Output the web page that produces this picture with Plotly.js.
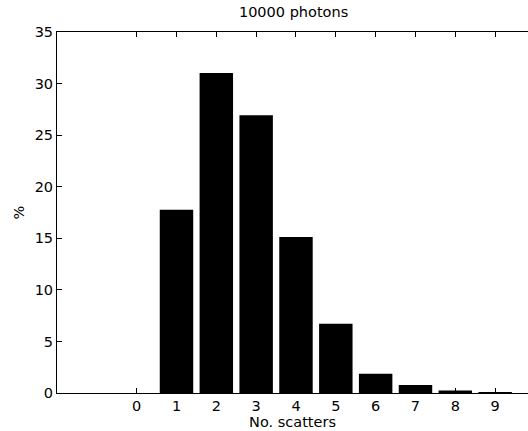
<!DOCTYPE html>
<html>
<head>
<meta charset="utf-8">
<script src="https://cdn.plot.ly/plotly-3.0.1.min.js"></script>
<style>
html,body{margin:0;padding:0;overflow:hidden;background:#fff;}
#chart{width:528px;height:431px;}
</style>
</head>
<body>
<div id="chart"></div>
<script>
var scatters = [0, 1, 2, 3, 4, 5, 6, 7, 8, 9];
var percent = [0, 17.77, 31.03, 26.92, 15.12, 6.72, 1.87, 0.78, 0.25, 0.1];
var tickVals = [0, 1, 2, 3, 4, 5, 6, 7, 8, 9];
var yTickVals = [0, 5, 10, 15, 20, 25, 30, 35];
var titleText = "10000 photons";
var xLabel = "No. scatters";
var yLabel = "%";

var font = {family: "DejaVu Sans, Liberation Sans, Arial, sans-serif", size: 14.5, color: "#000"};

Plotly.newPlot("chart", [{
  type: "bar",
  x: scatters,
  y: percent,
  width: 0.84,
  marker: {color: "#000", line: {color: "#000", width: 0}},
  hoverinfo: "none"
}], {
  width: 528,
  height: 431,
  margin: {l: 57, r: 0, t: 32, b: 38, pad: 0},
  paper_bgcolor: "#fff",
  plot_bgcolor: "#fff",
  font: font,
  showlegend: false,
  title: {text: titleText, font: font, xref: "container", x: 0.556, xanchor: "center", yref: "container", y: 0.985, yanchor: "top"},
  xaxis: {
    range: [-2, 9.825],
    tickmode: "array",
    tickvals: tickVals,
    ticktext: tickVals.map(String),
    ticks: "inside",
    ticklen: 5,
    tickcolor: "#000",
    tickwidth: 1,
    showline: true,
    linecolor: "#000",
    linewidth: 1,
    mirror: "ticks",
    showgrid: false,
    zeroline: false,
    tickfont: font,
    title: {text: xLabel, font: font, standoff: 2}
  },
  yaxis: {
    range: [0, 35],
    tickmode: "array",
    tickvals: yTickVals,
    ticks: "inside",
    ticklen: 5,
    tickcolor: "#000",
    tickwidth: 1,
    showline: true,
    linecolor: "#000",
    linewidth: 1,
    mirror: false,
    showgrid: false,
    zeroline: false,
    tickfont: font,
    title: {text: yLabel, font: font, standoff: 6}
  }
}, {staticPlot: true, displayModeBar: false});
</script>
</body>
</html>
